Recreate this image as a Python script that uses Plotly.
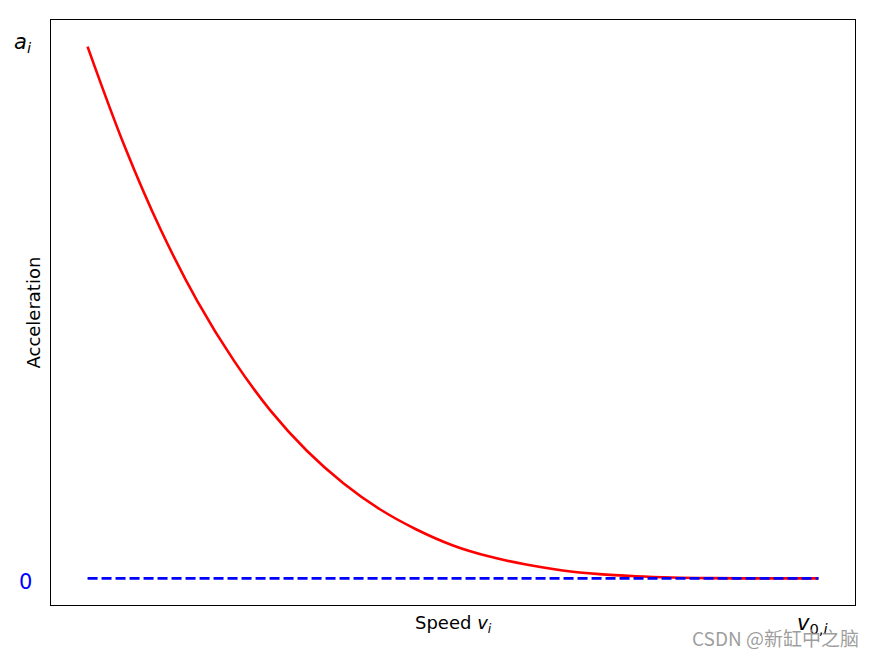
import plotly.graph_objects as go

# Values (normalised speed v/v0, acceleration a/a_i)
speed = [0.0, 0.05, 0.10, 0.15, 0.20, 0.25, 0.30, 0.35, 0.40, 0.45, 0.50,
         0.55, 0.60, 0.65, 0.70, 0.75, 0.80, 0.85, 0.90, 0.95, 1.0]
accel = [1.0, 0.815, 0.656, 0.522, 0.410, 0.316, 0.240, 0.179, 0.130, 0.092, 0.062,
         0.041, 0.026, 0.015, 0.008, 0.004, 0.0016, 0.0005, 0.0001, 0.0, 0.0]
zero_x = [0.0, 1.0]
zero_y = [0.0, 0.0]

y_tick_vals = [1.0, 0.0]
y_tick_text = ["<i>a</i><sub><i>i</i></sub>", "0"]
y_tick_colors = ["black", "blue"]
x_tick_val = 1.0
x_tick_text = "<i>v</i><sub>0,<i>i</i></sub>"

FONT = "DejaVu Sans"

fig = go.Figure()
fig.add_trace(go.Scatter(x=speed, y=accel, mode="lines",
                         line=dict(color="red", width=2.6, shape="spline", smoothing=1.0),
                         showlegend=False, hoverinfo="skip"))
fig.add_trace(go.Scatter(x=zero_x, y=zero_y, mode="lines",
                         line=dict(color="blue", width=2.6, dash="10px,4px"),
                         showlegend=False, hoverinfo="skip"))

fig.update_layout(
    width=875, height=656,
    margin=dict(l=51, r=20, t=20, b=51),
    paper_bgcolor="white", plot_bgcolor="white",
    font=dict(family=FONT, color="black"),
    xaxis=dict(range=[-0.05, 1.05], showgrid=False, zeroline=False,
               showticklabels=False, ticks="", showline=True, linecolor="black",
               linewidth=1.2, mirror=True),
    yaxis=dict(range=[-0.05, 1.05], showgrid=False, zeroline=False,
               showticklabels=False, ticks="", showline=True, linecolor="black",
               linewidth=1.2, mirror=True),
)

anns = []
for v, t, c in zip(y_tick_vals, y_tick_text, y_tick_colors):
    anns.append(dict(xref="paper", yref="y", x=0, y=v, text=t, showarrow=False,
                     xanchor="right", yanchor="middle", xshift=-17,
                     yshift=(4 if v == 1.0 else -4),
                     font=dict(family=FONT, size=21, color=c)))
anns.append(dict(xref="x", yref="paper", x=x_tick_val, y=0, text=x_tick_text,
                 showarrow=False, xanchor="center", yanchor="top", xshift=-6, yshift=-4,
                 font=dict(family=FONT, size=21, color="black")))
anns.append(dict(xref="paper", yref="paper", x=0.5, y=0, text="Speed <i>v</i><sub><i>i</i></sub>",
                 showarrow=False, xanchor="center", yanchor="top", yshift=-5,
                 font=dict(family=FONT, size=18, color="black")))
anns.append(dict(xref="paper", yref="paper", x=0, y=0.5, text="Acceleration",
                 showarrow=False, textangle=-90, xanchor="center", yanchor="middle",
                 xshift=-18, font=dict(family=FONT, size=18, color="black")))
anns.append(dict(xref="paper", yref="paper", x=1, y=0, text="CSDN @新缸中之脑",
                 showarrow=False, xanchor="right", yanchor="bottom", xshift=6, yshift=-48,
                 font=dict(family="Noto Sans CJK SC", size=19, color="rgba(140,140,140,0.85)")))
fig.update_layout(annotations=anns)

fig.write_html("out.html")
